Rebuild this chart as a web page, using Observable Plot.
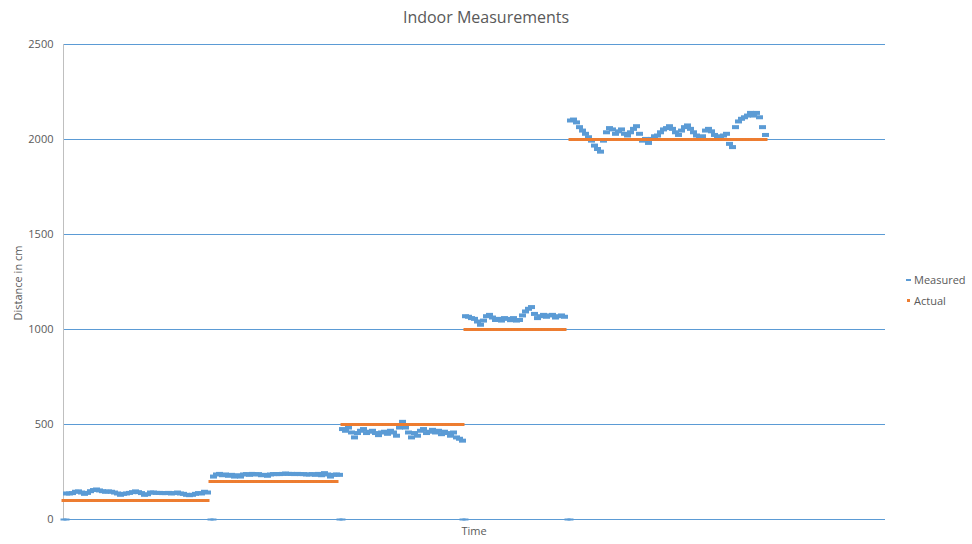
<!DOCTYPE html>
<html>
<head>
<meta charset="utf-8">
<script src="https://cdn.jsdelivr.net/npm/d3@7"></script>
<script src="https://cdn.jsdelivr.net/npm/@observablehq/plot@0.6"></script>
<style>
  html, body { margin: 0; padding: 0; background: #fff; }
  #wrap { position: relative; width: 972px; height: 544px; font-family: "Open Sans", sans-serif; color: #595959; }
  #chart { position: absolute; left: 0; top: 0; }
  .lbl { position: absolute; white-space: nowrap; transform: translate(-50%, -50%); }
  #title { font-size: 16px; left: 486px; top: 17px; }
  #ylab { font-size: 11px; left: 17px; top: 283px; transform: translate(-50%, -50%) rotate(-90deg); }
  #xlab { font-size: 11px; left: 474px; top: 530px; }
  .leg { position: absolute; font-size: 11px; left: 906px; white-space: nowrap; display: flex; align-items: center; }
  .leg i { display: inline-block; margin-right: 3px; }
</style>
</head>
<body>
<div id="wrap">
  <div id="chart"></div>
  <div id="title" class="lbl">Indoor Measurements</div>
  <div id="ylab" class="lbl">Distance in cm</div>
  <div id="xlab" class="lbl">Time</div>
  <div class="leg" style="top:272px"><i style="width:5px;height:2px;background:#5b9bd5"></i>Measured</div>
  <div class="leg" style="top:293px"><i style="width:3px;height:3px;background:#ed7d31;margin-left:1px;margin-right:4px"></i>Actual</div>
</div>
<script>
// ---- data ----
const yTicks = [0, 500, 1000, 1500, 2000, 2500];
const seriesNames = ["Measured", "Actual"];
const xMax = 274;

const seg1Start = 1;
const seg1 = [137,137,139,146,148,142,135,140,149,155,158,153,149,146,148,146,142,137,130,135,137,140,144,148,144,139,130,133,142,142,140,140,139,139,140,137,139,142,137,135,130,128,130,135,139,137,146,142];
const seg2Start = 50;
const seg2 = [226,237,240,233,237,230,235,226,233,226,237,239,235,240,237,239,233,235,230,237,239,239,239,240,242,240,240,239,240,239,239,237,237,239,235,240,233,244,237,226,235,237,235];
const seg3Start = 93;
const seg3 = [476,467,484,458,432,455,467,476,455,462,467,455,444,458,462,451,467,458,441,484,514,484,458,432,455,441,467,476,455,462,472,458,467,449,462,455,441,458,432,425,415];
const seg4Start = 134;
const seg4 = [1070,1067,1060,1056,1042,1025,1047,1070,1077,1063,1050,1056,1047,1060,1056,1049,1060,1047,1050,1074,1095,1109,1118,1082,1060,1070,1077,1067,1074,1077,1063,1070,1074,1067];
const seg5Start = 169;
const seg5 = [2100,2105,2090,2065,2047,2030,2012,1994,1968,1950,1936,1994,2038,2060,2053,2030,2043,2053,2030,2021,2038,2056,2070,2030,1994,2003,1982,2003,2017,2021,2038,2053,2060,2070,2056,2038,2024,2047,2065,2074,2056,2038,2021,2012,2017,2047,2056,2043,2024,2017,2012,2021,2030,1977,1960,2065,2095,2109,2117,2126,2140,2126,2140,2117,2065,2024];
const zeroIdx = [0, 1, 49, 50, 92, 93, 133, 134, 168, 169];

const actualLevels = [100, 200, 500, 1000, 2000];
const actualStart = [0, 49, 93, 134, 169];
const actualEnd = [48, 91, 133, 167, 234];

// ---- build rows ----
const measured = [];
[[seg1Start, seg1], [seg2Start, seg2], [seg3Start, seg3], [seg4Start, seg4], [seg5Start, seg5]]
  .forEach(([s, arr]) => arr.forEach((v, k) => measured.push({i: s + k, v})));
const zeros = zeroIdx.map(i => ({i, v: 0}));

const actual = [];
actualLevels.forEach((lv, j) => {
  for (let i = actualStart[j]; i <= actualEnd[j]; i++) actual.push({i, v: lv});
});

const rectSymbol = (w, h) => ({
  draw(ctx) {
    ctx.moveTo(-w / 2, -h / 2); ctx.lineTo(w / 2, -h / 2);
    ctx.lineTo(w / 2, h / 2); ctx.lineTo(-w / 2, h / 2); ctx.closePath();
  }
});

const chart = Plot.plot({
  width: 972,
  height: 544,
  marginLeft: 63,
  marginRight: 87,
  marginTop: 44,
  marginBottom: 25,
  x: {domain: [0, xMax], axis: null},
  y: {domain: [0, 2500], axis: null},
  style: {fontFamily: "Open Sans, sans-serif", fontSize: "11px", color: "#595959", background: "#fff"},
  marks: [
    Plot.gridY(yTicks, {stroke: "#5b9bd5", strokeOpacity: 1}),
    Plot.ruleX([0], {stroke: "#bfbfbf"}),
    Plot.axisY(yTicks, {tickSize: 0, tickPadding: 10, label: null, tickFormat: d => String(d), fill: "#595959"}),
    Plot.dot(zeros, {x: "i", y: "v", symbol: rectSymbol(6, 2), fill: "#5b9bd5", stroke: "none"}),
    Plot.dot(measured, {x: "i", y: "v", symbol: rectSymbol(7, 4), fill: "#5b9bd5", stroke: "none"}),
    Plot.dot(actual, {x: "i", y: "v", symbol: rectSymbol(4, 3), fill: "#ed7d31", stroke: "none"})
  ]
});
document.getElementById("chart").appendChild(chart);
</script>
</body>
</html>
